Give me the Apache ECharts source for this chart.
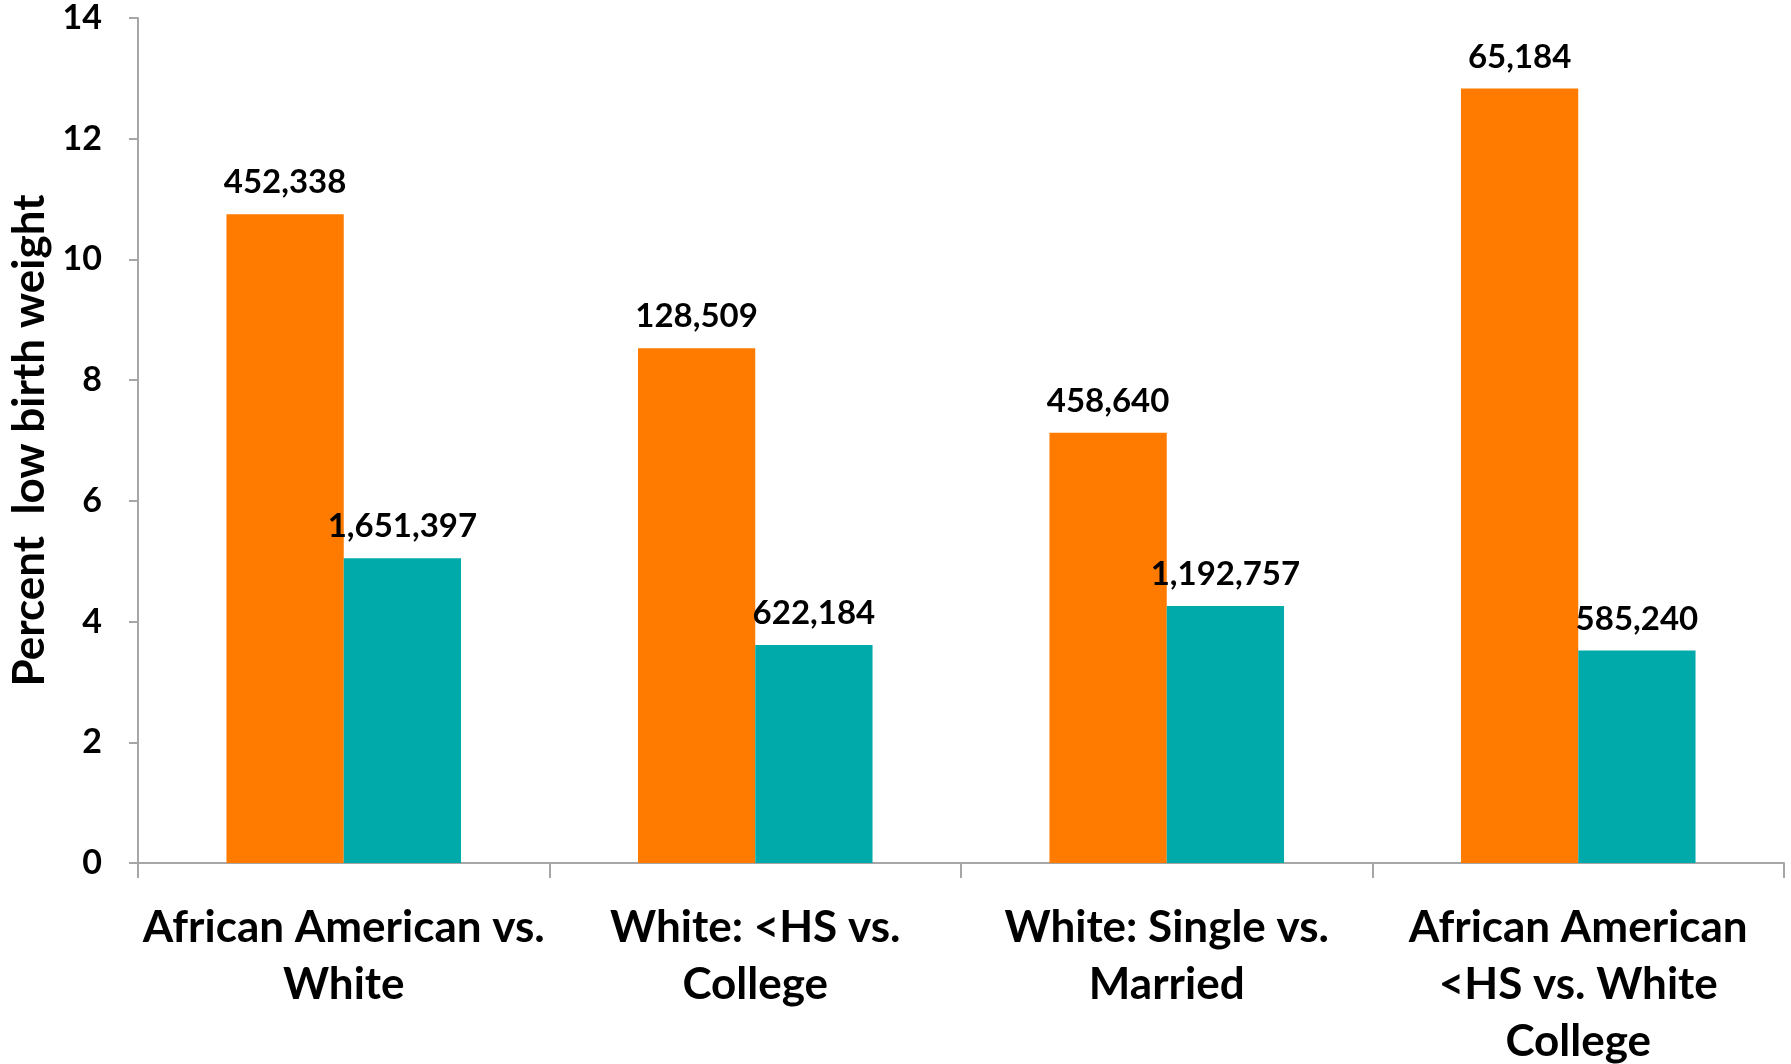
<!DOCTYPE html>
<html>
<head>
<meta charset="utf-8">
<script src="https://cdn.jsdelivr.net/npm/echarts@6/dist/echarts.min.js"></script>
<style>html,body{margin:0;padding:0;background:#fff}#c{width:1791px;height:1064px}</style>
</head>
<body>
<div id="c"></div>
<script>
const categories = [
  "African American vs.\nWhite",
  "White: <HS vs.\nCollege",
  "White: Single vs.\nMarried",
  "African American\n<HS vs. White\nCollege"
];
const groupA = [10.75, 8.53, 7.13, 12.83];
const groupB = [5.05, 3.61, 4.26, 3.52];
const countsA = ["452,338", "128,509", "458,640", "65,184"];
const countsB = ["1,651,397", "622,184", "1,192,757", "585,240"];
const yTicks = [0, 2, 4, 6, 8, 10, 12, 14];
const yTitle = "Percent  low birth weight";

const FONT = "Lato";
const chart = echarts.init(document.getElementById('c'), null, {renderer: 'canvas'});
const labelStyle = {show: true, position: 'top', distance: 15, color: '#000', fontFamily: FONT, fontWeight: 'bold', fontSize: 33};
chart.setOption({
  animation: false,
  backgroundColor: '#ffffff',
  grid: {left: 138, right: 7, top: 18, bottom: 201, containLabel: false, outerBoundsMode: 'none'},
  xAxis: {
    type: 'category',
    data: categories,
    axisLine: {lineStyle: {color: '#A6A6A6', width: 2}},
    axisTick: {show: true, length: 15, lineStyle: {color: '#A6A6A6', width: 2}},
    axisLabel: {color: '#000', fontFamily: FONT, fontWeight: 'bold', fontSize: 44, lineHeight: 57, margin: 36, interval: 0}
  },
  yAxis: {
    type: 'value', min: yTicks[0], max: yTicks[yTicks.length - 1], interval: 2,
    name: yTitle, nameLocation: 'middle', nameGap: 84, nameRotate: 90,
    nameTextStyle: {color: '#000', fontFamily: FONT, fontWeight: 'bold', fontSize: 44},
    axisLine: {show: true, lineStyle: {color: '#A6A6A6', width: 2}},
    axisTick: {show: true, length: 9, lineStyle: {color: '#A6A6A6', width: 2}},
    splitLine: {show: false},
    axisLabel: {color: '#000', fontFamily: FONT, fontWeight: 'bold', fontSize: 34, margin: 36, padding: [6, 0, 0, 0]}
  },
  series: [
    {type: 'bar', data: groupA, barGap: '0%', barCategoryGap: '43%', itemStyle: {color: '#FF7B00'},
     label: Object.assign({}, labelStyle, {formatter: p => countsA[p.dataIndex]})},
    {type: 'bar', data: groupB, barGap: '0%', barCategoryGap: '43%', itemStyle: {color: '#00AAAA'},
     label: Object.assign({}, labelStyle, {formatter: p => countsB[p.dataIndex]})}
  ]
});
</script>
</body>
</html>
